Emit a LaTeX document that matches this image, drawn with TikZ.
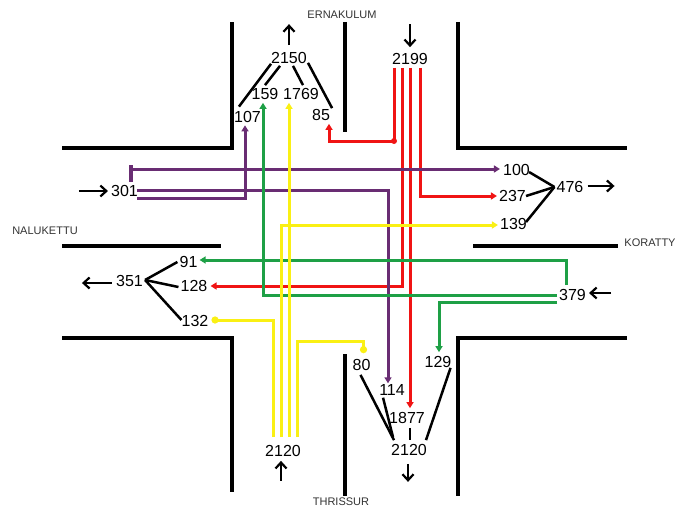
\documentclass[tikz,border=0pt]{standalone}
\usepackage{fontspec}
\setmainfont{Liberation Sans}
\usetikzlibrary{arrows.meta}
\definecolor{cRed}{RGB}{240,20,20}
\definecolor{cPurple}{RGB}{105,45,115}
\definecolor{cGreen}{RGB}{30,160,70}
\definecolor{cYellow}{RGB}{250,240,20}
\begin{document}
\begin{tikzpicture}[x=1pt,y=-1pt,
  road/.style={line width=3.2pt},
  link/.style={line width=2.5pt},
  route/.style={line width=3pt,-{Triangle[length=6pt,width=7pt]}},
  dotroute/.style={line width=3pt,-{Circle[length=7pt]}},
  flow/.style={line width=2.2pt,-{Straight Barb[length=6pt,width=11pt]}},
  num/.style={inner sep=0pt,font=\fontsize{16}{16}\selectfont},
  town/.style={inner sep=0pt,font=\fontsize{11}{12}\selectfont,text=black!80}]
\useasboundingbox (0,0) rectangle (687,508);
\fill[white] (0,0) rectangle (687,508);
% roads
\draw[road] (62,148) -- (232,148) -- (232,22);
\draw[road] (458,22) -- (458,148) -- (627,148);
\draw[road] (345,22) -- (345,132);
\draw[road] (62,246) -- (221,246);
\draw[road] (473,246) -- (618,246);
\draw[road] (62,338) -- (232,338) -- (232,492);
\draw[road] (627,338) -- (458,338) -- (458,496);
\draw[road] (345,354) -- (345,496);
% town labels
\node[town] (ern) at (342,15) {ERNAKULUM};
\node[town] (nal) at (45,231) {NALUKETTU};
\node[town] (kor) at (650,243) {KORATTY};
\node[town] (thr) at (341,502) {THRISSUR};
% numbers
\node[num] (n2150) at (289,58) {2150};
\node[num] (n2199) at (410,59) {2199};
\node[num] (n159) at (265,94) {159};
\node[num] (n1769) at (301,94) {1769};
\node[num] (n107) at (247.5,116.5) {107};
\node[num] (n85) at (321,115) {85};
\node[num] (n100) at (516.5,170) {100};
\node[num] (n237) at (512.5,196) {237};
\node[num] (n139) at (513.5,224) {139};
\node[num] (n476) at (570,187) {476};
\node[num] (n301) at (124.5,191) {301};
\node[num] (n91) at (188.5,262) {91};
\node[num] (n128) at (194,286) {128};
\node[num] (n132) at (195,321) {132};
\node[num] (n351) at (129.5,281) {351};
\node[num] (n379) at (572.5,295) {379};
\node[num] (n80) at (361.5,365) {80};
\node[num] (n114) at (392,390) {114};
\node[num] (n1877) at (407,418) {1877};
\node[num] (n129) at (438,362) {129};
\node[num] (nBR) at (409,450) {2120};
\node[num] (nBL) at (283,451) {2120};
% black links
\draw[link] (n2150.south west) -- ([shift={(5,-4)}]n107.north west);
\draw[link] ([shift={(-9,2)}]n2150.south) -- ([shift={(0,-3)}]n159.north);
\draw[link] ([shift={(4,2)}]n2150.south) -- ([shift={(2,-3)}]n1769.north);
\draw[link] ([shift={(1,-1)}]n2150.south east) -- ([shift={(2,-1)}]n85.north east);
\draw[link] ([shift={(-2,0)}]n476.west) -- ([shift={(-1,2)}]n100.east);
\draw[link] ([shift={(-2,0)}]n476.west) -- (n237.east);
\draw[link] ([shift={(-2,0)}]n476.west) -- ([shift={(-1,-2)}]n139.east);
\draw[link] ([shift={(2,-1)}]n351.east) -- ([shift={(-2,0)}]n91.west);
\draw[link] ([shift={(2,-1)}]n351.east) -- ([shift={(-2,1)}]n128.west);
\draw[link] ([shift={(2,-1)}]n351.east) -- ([shift={(0,-1)}]n132.west);
\draw[link] ([shift={(-1,4)}]n80.south) -- ([shift={(3,-4)}]nBR.north west);
\draw[link] ([shift={(4,2)}]n114.south west) -- ([shift={(2,-7)}]nBR.north west);
\draw[link] ([shift={(3,4)}]n1877.south) -- ([shift={(1,-4)}]nBR.north);
\draw[link] ([shift={(-1,0)}]n129.south east) -- ([shift={(-1,-4)}]nBR.north east);
% flow arrows
\draw[flow] ([shift={(0,-7)}]n2150.north) -- ([shift={(0,-28)}]n2150.north);
\draw[flow] ([shift={(0,-29)}]n2199.north) -- ([shift={(0,-6)}]n2199.north);
\draw[flow] ([shift={(-32,0)}]n301.west) -- ([shift={(-3,0)}]n301.west);
\draw[flow] ([shift={(4,-1)}]n476.east) -- ([shift={(31,-1)}]n476.east);
\draw[flow] ([shift={(-4,2)}]n351.west) -- ([shift={(-34,2)}]n351.west);
\draw[flow] ([shift={(25,-2)}]n379.east) -- ([shift={(3,-2)}]n379.east);
\draw[flow] ([shift={(-2,24)}]nBL.south) -- ([shift={(-2,4)}]nBL.south);
\draw[flow] ([shift={(-1,8)}]nBR.south) -- ([shift={(-1,26)}]nBR.south);
% route start coordinates
\coordinate (rA) at (394,68);
\coordinate (rB) at (402,68);
\coordinate (rC) at (410,68);
\coordinate (rD) at (420,68);
\coordinate (pA) at (131,182);
\coordinate (pB) at (137,190);
\coordinate (pC) at (137,198);
\coordinate (gA) at (566,285);
\coordinate (gB) at (557,295);
\coordinate (gC) at (557,302);
\coordinate (yA) at (273,437);
\coordinate (yB) at (281,437);
\coordinate (yC) at (289,437);
\coordinate (yD) at (297,437);
% red
\draw[route,cRed] (rA) -- (394,141) -| ([shift={(8,3)}]n85.south);
\fill[cRed] (394,141) circle (3pt);
\draw[route,cRed] (rB) |- ([shift={(3,0)}]n128.east);
\draw[route,cRed] (rC) -- ([shift={(0,-4)}]n1877.north -| rC);
\draw[route,cRed] (rD) |- ([shift={(-2,0)}]n237.west);
% purple
\draw[cPurple,line width=3.8pt] (131,165) -- (pA);
\draw[route,cPurple] (pA) |- ([shift={(-3,-1)}]n100.west);
\draw[route,cPurple] (pB) -| ([shift={(-4,-1)}]n114.north);
\draw[route,cPurple] (pC) -| ([shift={(-2.5,3)}]n107.south);
% green
\draw[route,cGreen] (gA) |- ([shift={(2,-2)}]n91.east);
\draw[route,cGreen] (gB) -| ([shift={(-2,3)}]n159.south);
\draw[route,cGreen] (gC) -| ([shift={(1,-4)}]n129.north);
% yellow
\draw[dotroute,cYellow] (yA) |- ([shift={(3,-1)}]n132.east);
\draw[route,cYellow] (yB) |- ([shift={(-2,1)}]n139.west);
\draw[route,cYellow] (yC) -- ([shift={(0,3)}]n1769.south -| yC);
\draw[dotroute,cYellow] (yD) -- (297,341) -| ([shift={(2,-6)}]n80.north);
\end{tikzpicture}
\end{document}
